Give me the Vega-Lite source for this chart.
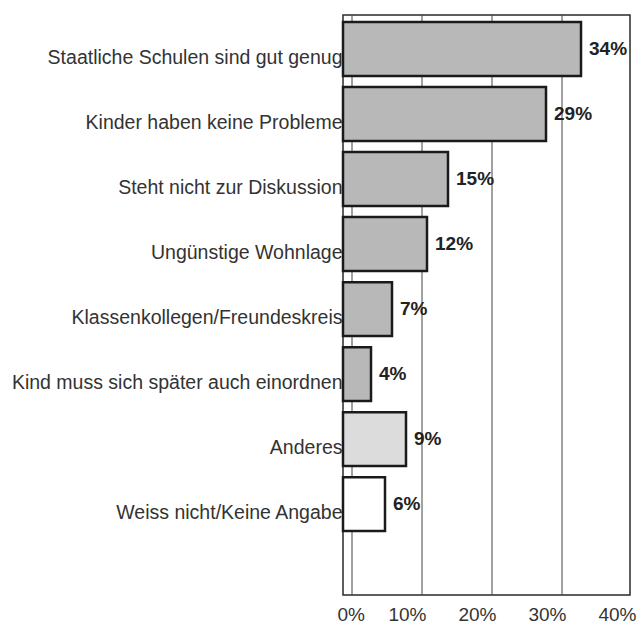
{
  "$schema": "https://vega.github.io/schema/vega-lite/v6.json",
  "autosize": "none",
  "width": 287,
  "height": 580,
  "padding": {"left": 343, "top": 15, "right": 12, "bottom": 31},
  "background": "#ffffff",
  "config": {"view": {"stroke": "#2a2a2a", "strokeWidth": 1.5}},
  "datasets": {
    "bars": [
      {"label": "Staatliche Schulen sind gut genug", "value": 0.34},
      {"label": "Kinder haben keine Probleme", "value": 0.29},
      {"label": "Steht nicht zur Diskussion", "value": 0.15},
      {"label": "Ungünstige Wohnlage", "value": 0.12},
      {"label": "Klassenkollegen/Freundeskreis", "value": 0.07},
      {"label": "Kind muss sich später auch einordnen", "value": 0.04},
      {"label": "Anderes", "value": 0.09},
      {"label": "Weiss nicht/Keine Angabe", "value": 0.06}
    ],
    "grid": [{"g": 0}, {"g": 0.1}, {"g": 0.2}, {"g": 0.3}]
  },
  "layer": [
    {
      "data": {"name": "grid"},
      "mark": {"type": "rule", "color": "#444444", "strokeWidth": 1, "xOffset": 9},
      "encoding": {
        "x": {"field": "g", "type": "quantitative", "scale": {"domain": [0, 0.41], "nice": false}}
      }
    },
    {
      "data": {"name": "bars"},
      "mark": {"type": "bar", "stroke": "#1a1a1a", "strokeWidth": 2.5},
      "encoding": {
        "y": {
          "field": "label", "type": "nominal", "sort": null,
          "scale": {"paddingInner": 0.17, "paddingOuter": 0.546, "align": 0.1},
          "axis": {
            "title": null, "domain": false, "ticks": false,
            "labelFont": "Liberation Sans", "labelFontSize": 19.5, "labelColor": "#333333",
            "labelPadding": 1, "labelLimit": 400, "labelOffset": 9
          }
        },
        "x": {
          "field": "value", "type": "quantitative",
          "scale": {"domain": [0, 0.41], "nice": false},
          "axis": {
            "title": null, "values": [0, 0.1, 0.2, 0.3, 0.4], "format": ".0%",
            "grid": false, "ticks": false, "domain": false,
            "labelFont": "Liberation Sans", "labelFontSize": 19, "labelColor": "#333333",
            "labelPadding": 10, "labelOffset": -6
          }
        },
        "fill": {
          "field": "label", "type": "nominal", "legend": null,
          "scale": {
            "domain": ["Staatliche Schulen sind gut genug", "Kinder haben keine Probleme", "Steht nicht zur Diskussion", "Ungünstige Wohnlage", "Klassenkollegen/Freundeskreis", "Kind muss sich später auch einordnen", "Anderes", "Weiss nicht/Keine Angabe"],
            "range": ["#b8b8b8", "#b8b8b8", "#b8b8b8", "#b8b8b8", "#b8b8b8", "#b8b8b8", "#dcdcdc", "#ffffff"]
          }
        }
      }
    },
    {
      "data": {"name": "bars"},
      "mark": {"type": "text", "align": "left", "baseline": "middle", "dx": 8, "font": "Liberation Sans", "fontSize": 19, "fontWeight": "bold", "color": "#222222"},
      "encoding": {
        "y": {"field": "label", "type": "nominal", "sort": null},
        "x": {"field": "value", "type": "quantitative"},
        "text": {"field": "value", "type": "quantitative", "format": ".0%"}
      }
    }
  ]
}
